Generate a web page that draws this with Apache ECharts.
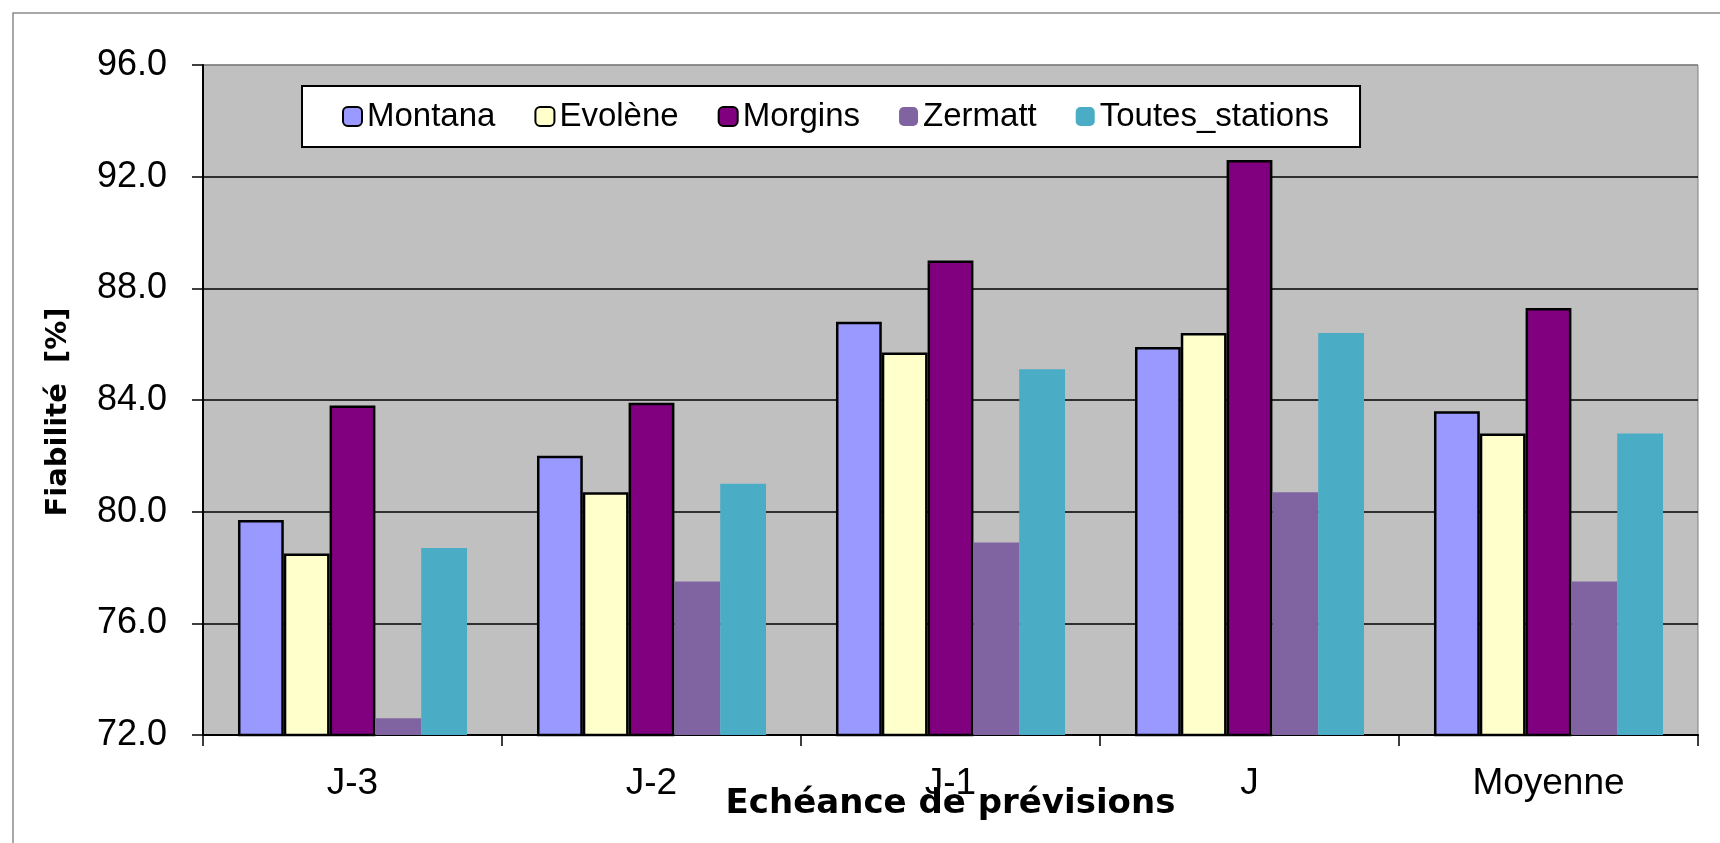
<!DOCTYPE html>
<html>
<head>
<meta charset="utf-8">
<title>Fiabilité des prévisions par échéance</title>
<script src="https://cdn.jsdelivr.net/npm/echarts@6/dist/echarts.min.js"></script>
<style>
  html, body { margin: 0; padding: 0; background: #ffffff; }
  #chart { width: 1720px; height: 843px; }
</style>
</head>
<body>
<div id="chart"></div>
<script>
// Forecast lead times (categories on the x axis)
const categories = ['J-3', 'J-2', 'J-1', 'J', 'Moyenne'];

// Reliability [%] per station and lead time
const montana = [79.7, 82.0, 86.8, 85.9, 83.6];
const evolene = [78.5, 80.7, 85.7, 86.4, 82.8];
const morgins = [83.8, 83.9, 89.0, 92.6, 87.3];
const zermatt = [72.6, 77.5, 78.9, 80.7, 77.5];
const toutesStations = [78.7, 81.0, 85.1, 86.4, 82.8];

// Value axis range and step
const yMin = 72;
const yMax = 96;
const yStep = 4;

const labelFont = '"Liberation Sans", Arial, sans-serif';
const titleFont = '"DejaVu Sans", "Liberation Sans", sans-serif';

const chart = echarts.init(document.getElementById('chart'), null, { renderer: 'canvas' });

function barSeries(name, data, color, bordered) {
  return {
    name: name,
    type: 'bar',
    data: data,
    barGap: '0%',
    barCategoryGap: '23.4%',
    itemStyle: {
      color: color,
      borderColor: bordered ? '#000000' : color,
      borderWidth: bordered ? 2.5 : 0
    },
    emphasis: { disabled: true }
  };
}

const option = {
  animation: false,
  backgroundColor: '#ffffff',
  graphic: [
    {
      // outer chart frame
      type: 'rect',
      shape: { x: 13, y: 13, width: 1730, height: 850 },
      style: { fill: 'none', stroke: '#8c8c8c', lineWidth: 1.5 },
      silent: true,
      z: -10
    }
  ],
  grid: {
    left: 203,
    right: 22,
    top: 65,
    bottom: 108,
    show: true,
    backgroundColor: '#c0c0c0',
    borderColor: '#808080',
    borderWidth: 1
  },
  legend: {
    left: 302,
    top: 86,
    padding: [14, 31, 14, 40],
    itemGap: 39,
    itemWidth: 19,
    itemHeight: 19,
    backgroundColor: '#ffffff',
    borderColor: '#000000',
    borderWidth: 2,
    textStyle: { fontFamily: labelFont, fontSize: 33, color: '#000000' },
    data: ['Montana', 'Evolène', 'Morgins', 'Zermatt', 'Toutes_stations']
  },
  xAxis: {
    type: 'category',
    data: categories,
    axisLine: { show: true, lineStyle: { color: '#000000', width: 2 } },
    axisTick: { show: true, length: 11, alignWithLabel: false, lineStyle: { color: '#000000', width: 1.5 } },
    axisLabel: { color: '#000000', fontFamily: labelFont, fontSize: 37, margin: 30 },
    splitLine: { show: false },
    name: 'Echéance de prévisions',
    nameLocation: 'middle',
    nameGap: 52,
    nameMoveOverlap: false,
    nameTextStyle: { color: '#000000', fontFamily: titleFont, fontWeight: 'bold', fontSize: 34 }
  },
  yAxis: {
    type: 'value',
    min: yMin,
    max: yMax,
    interval: yStep,
    axisLine: { show: true, lineStyle: { color: '#000000', width: 2 } },
    axisTick: { show: true, length: 11, lineStyle: { color: '#000000', width: 1.5 } },
    axisLabel: {
      color: '#000000',
      fontFamily: labelFont,
      fontSize: 36,
      margin: 36,
      formatter: function (v) { return v.toFixed(1); }
    },
    splitLine: {
      show: true,
      lineStyle: {
        color: ['#000000', '#000000', '#000000', '#000000', '#000000', '#000000', '#808080'],
        width: 1.5
      }
    },
    name: 'Fiabilité  [%]',
    nameLocation: 'middle',
    nameGap: 130,
    nameMoveOverlap: false,
    nameTextStyle: {
      color: '#000000',
      fontFamily: titleFont,
      fontWeight: 'bold',
      fontSize: 29,
      padding: [0, 24, 0, 0]
    }
  },
  series: [
    barSeries('Montana', montana, '#9999ff', true),
    barSeries('Evolène', evolene, '#ffffcc', true),
    barSeries('Morgins', morgins, '#800080', true),
    barSeries('Zermatt', zermatt, '#8064a2', false),
    barSeries('Toutes_stations', toutesStations, '#4bacc6', false)
  ]
};

chart.setOption(option);
</script>
</body>
</html>
